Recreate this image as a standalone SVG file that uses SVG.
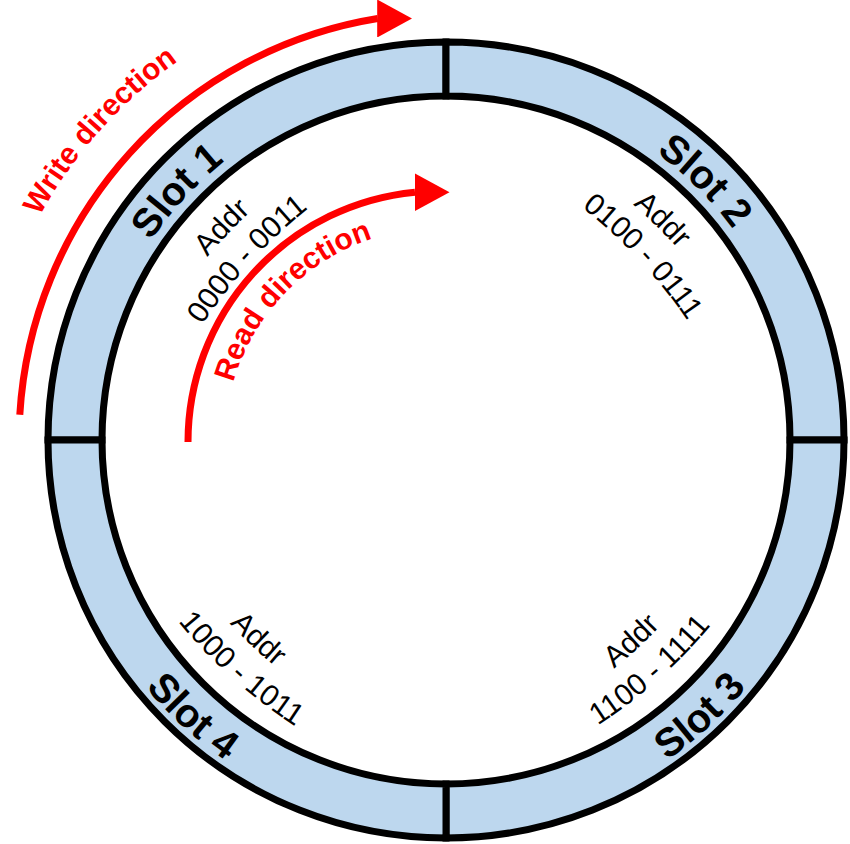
<svg xmlns="http://www.w3.org/2000/svg" width="850" height="844" viewBox="0 0 850 844">
<style>
.sector{fill:#BDD7EE;stroke:#000;stroke-width:7;stroke-linejoin:miter}
.slot{font-family:"Liberation Sans",Arial,sans-serif;font-weight:bold;font-size:40px;fill:#000}
.addr{font-family:"Liberation Sans",Arial,sans-serif;font-size:30px;fill:#000}
.dir{font-family:"Liberation Sans",Arial,sans-serif;font-weight:bold;font-size:30px;fill:#FF0000}
.arrow{fill:none;stroke:#FF0000;stroke-width:7;marker-end:url(#head)}
</style>
<defs>
<marker id="head" viewBox="0 0 35 38" refX="0.5" refY="19" markerWidth="35" markerHeight="38" markerUnits="userSpaceOnUse" orient="0">
<path d="M0,0 L35,19 L0,38 Z" fill="#FF0000"/>
</marker>
<path id="pWrite" d="M-17.3,465.9 A464 464 0 0 1 420.1,-23.3"/>
<path id="pRead" d="M225.0,445.7 A214 214 0 0 1 435.3,228.0"/>
<path id="pS1" d="M98.9,361.1 A356 356 0 0 1 340.7,99.9"/>
<path id="pS2" d="M537.8,96.1 A356 356 0 0 1 789.8,347.6"/>
<path id="pS3" d="M530.9,819.6 A389 389 0 0 0 817.2,556.3"/>
<path id="pS4" d="M75.0,557.0 A389 389 0 0 0 361.8,819.8"/>
<path id="pA1a" d="M139.8,362.4 A500 500 0 0 1 352.5,138.3"/>
<path id="pA1b" d="M164.9,393.1 A500 500 0 0 1 372.8,164.5"/>
<path id="pA2a" d="M528.9,135.2 A500 500 0 0 1 749.3,351.8"/>
<path id="pA2b" d="M515.8,163.6 A500 500 0 0 1 726.6,389.6"/>
<path id="pA3a" d="M507.7,734.8 A500 500 0 0 0 734.8,525.3"/>
<path id="pA3b" d="M526.1,763.7 A500 500 0 0 0 757.6,559.0"/>
<path id="pA4a" d="M156.2,522.2 A500 500 0 0 0 381.1,734.1"/>
<path id="pA4b" d="M133.8,557.3 A500 500 0 0 0 364.2,763.3"/>
</defs>
<rect width="850" height="844" fill="#FFFFFF"/>
<g id="slot1">
<path class="sector" d="M48,440 A398 398 0 0 1 446,42 L446,96 A344 344 0 0 0 102,440 Z"/>
<text class="slot"><textPath href="#pS1" startOffset="50%" text-anchor="middle">Slot 1</textPath></text>
<text class="addr"><textPath href="#pA1a" startOffset="50%" text-anchor="middle">Addr</textPath></text>
<text class="addr"><textPath href="#pA1b" startOffset="50%" text-anchor="middle">0000 - 0011</textPath></text>
</g>
<g id="slot2">
<path class="sector" d="M446,42 A398 398 0 0 1 844,440 L790,440 A344 344 0 0 0 446,96 Z"/>
<text class="slot"><textPath href="#pS2" startOffset="50%" text-anchor="middle">Slot 2</textPath></text>
<text class="addr"><textPath href="#pA2a" startOffset="50%" text-anchor="middle">Addr</textPath></text>
<text class="addr"><textPath href="#pA2b" startOffset="50%" text-anchor="middle">0100 - 0111</textPath></text>
</g>
<g id="slot3">
<path class="sector" d="M844,440 A398 398 0 0 1 446,838 L446,784 A344 344 0 0 0 790,440 Z"/>
<text class="slot"><textPath href="#pS3" startOffset="50%" text-anchor="middle">Slot 3</textPath></text>
<text class="addr"><textPath href="#pA3a" startOffset="50%" text-anchor="middle">Addr</textPath></text>
<text class="addr"><textPath href="#pA3b" startOffset="50%" text-anchor="middle">1100 - 1111</textPath></text>
</g>
<g id="slot4">
<path class="sector" d="M446,838 A398 398 0 0 1 48,440 L102,440 A344 344 0 0 0 446,784 Z"/>
<text class="slot"><textPath href="#pS4" startOffset="50%" text-anchor="middle">Slot 4</textPath></text>
<text class="addr"><textPath href="#pA4a" startOffset="50%" text-anchor="middle">Addr</textPath></text>
<text class="addr"><textPath href="#pA4b" startOffset="50%" text-anchor="middle">1000 - 1011</textPath></text>
</g>
<g id="connectors">
<path class="arrow" d="M19.8,414.7 A427 427 0 0 1 377.7,18.5"/>
<path class="arrow" d="M188,442 A251 251 0 0 1 415,192.2"/>
<text class="dir"><textPath href="#pWrite" startOffset="50%" text-anchor="middle">Write direction</textPath></text>
<text class="dir"><textPath href="#pRead" startOffset="50%" text-anchor="middle">Read direction</textPath></text>
</g>
</svg>
